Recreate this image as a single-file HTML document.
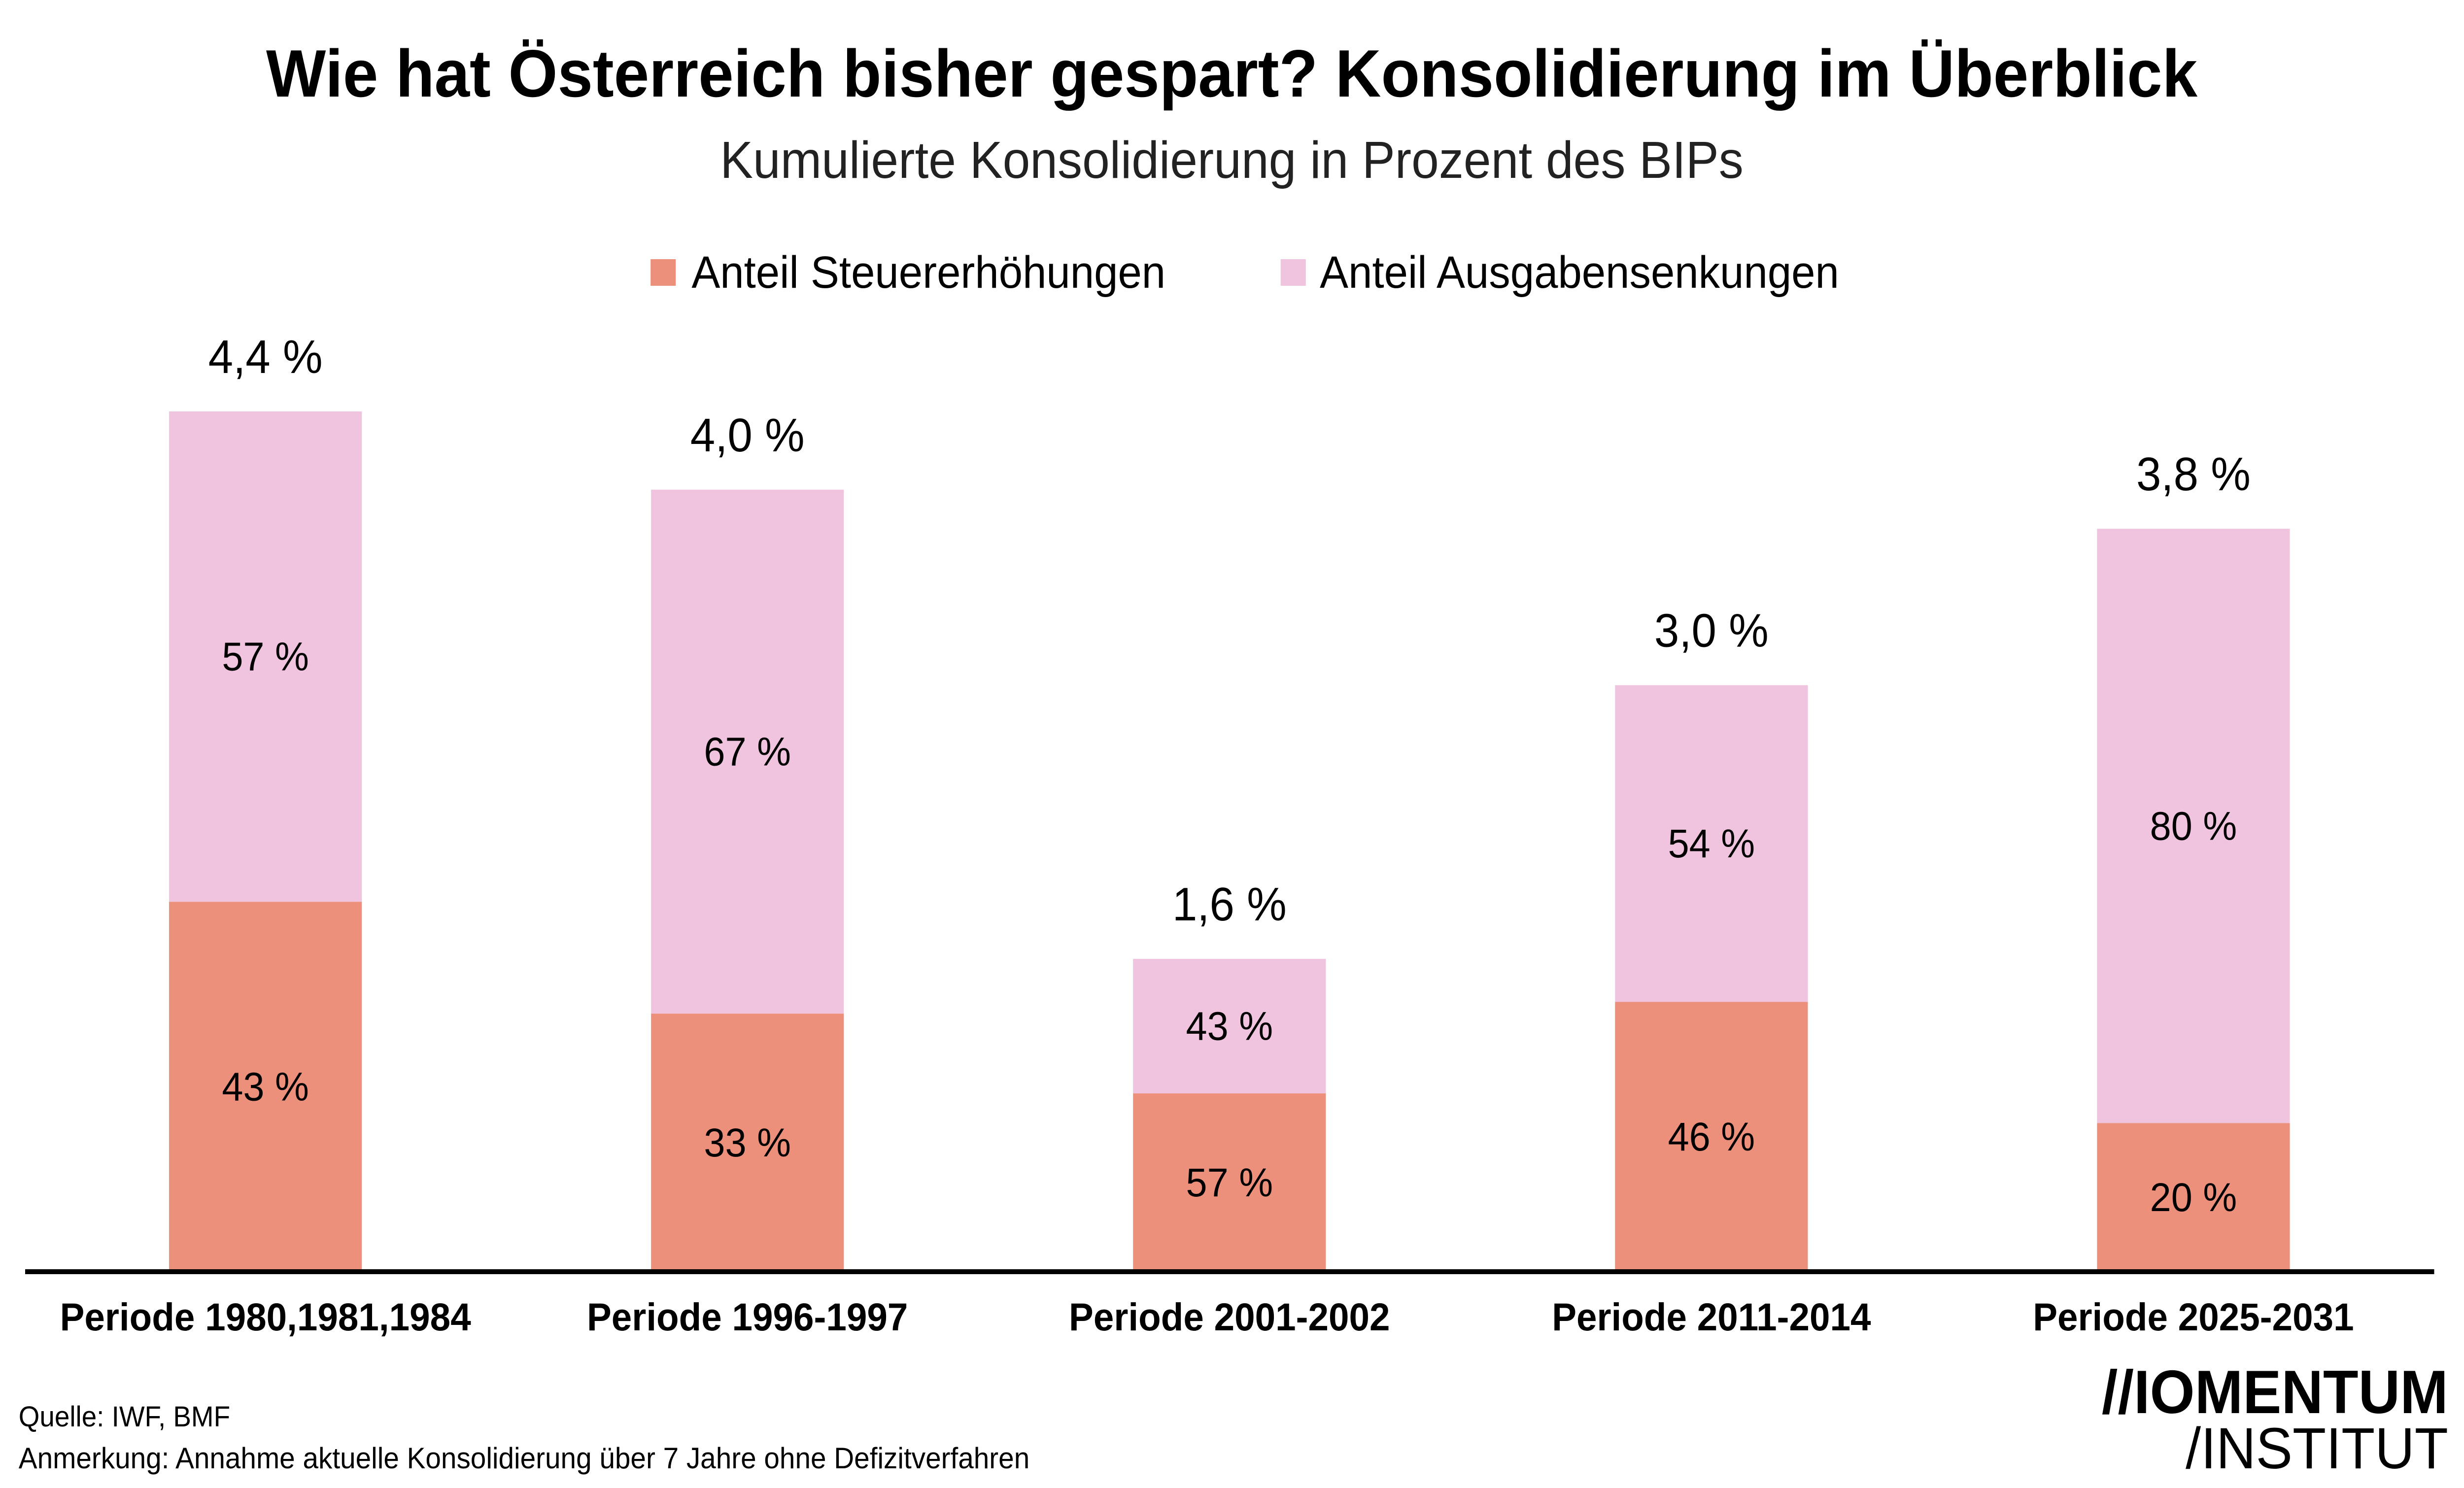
<!DOCTYPE html>
<html><head><meta charset="utf-8"><style>
html,body{margin:0;padding:0;background:#fff;width:100vw;height:100vh;overflow:hidden;}
svg{display:block;width:100vw;height:100vh;font-family:"Liberation Sans","DejaVu Sans",sans-serif;}
</style></head><body>
<svg id="chart" viewBox="0 0 5291 3020" preserveAspectRatio="none" xmlns="http://www.w3.org/2000/svg">
<text x="2645" y="196" text-anchor="middle" font-size="136" font-weight="bold" fill="#000">Wie hat Österreich bisher gespart? Konsolidierung im Überblick</text>
<text x="2645" y="361" text-anchor="middle" font-size="106" fill="#222">Kumulierte Konsolidierung in Prozent des BIPs</text>
<g>
<rect x="1397" y="526" width="54" height="54" fill="#ec907b"/>
<text x="1485" y="584" font-size="92" fill="#000">Anteil Steuererhöhungen</text>
<rect x="2750" y="526" width="54" height="54" fill="#f0c4df"/>
<text x="2834" y="584" font-size="92" fill="#000">Anteil Ausgabensenkungen</text>
</g>
<g id="bars"></g>
<line x1="54" y1="2581" x2="5227" y2="2581" stroke="#000" stroke-width="10"/>
<text x="40" y="2895" font-size="58" fill="#000">Quelle: IWF, BMF</text>
<text x="40" y="2980" font-size="60" fill="#000">Anmerkung: Annahme aktuelle  Konsolidierung über 7 Jahre ohne Defizitverfahren</text>
<text x="5257" y="2868" text-anchor="end" font-size="124" font-weight="bold" fill="#000">//IOMENTUM</text>
<text x="5257" y="2980" text-anchor="end" font-size="118" fill="#000">/INSTITUT</text>
</svg>
<script>
const categories = ["Periode 1980,1981,1984","Periode 1996-1997","Periode 2001-2002","Periode 2011-2014","Periode 2025-2031"];
const totals = [4.4, 4.0, 1.6, 3.0, 3.8];
const totalLabels = ["4,4 %","4,0 %","1,6 %","3,0 %","3,8 %"];
const taxShare = [43, 33, 57, 46, 20];
const spendShare = [57, 67, 43, 54, 80];

const NS = "http://www.w3.org/2000/svg";
const baseY = 2581, pxPerUnit = 396.8;
const firstCenter = 570, step = 1035, barW = 414;
function xCenter(i){ return firstCenter + i*step; }
function yScale(v){ return baseY - v*pxPerUnit; }
const g = document.getElementById('bars');
function mk(tag, attrs){ const e=document.createElementNS(NS,tag); for(const k in attrs) e.setAttribute(k,attrs[k]); g.appendChild(e); return e; }

categories.forEach((c,i)=>{
  const cx = xCenter(i);
  const top = yScale(totals[i]);
  const taxV = totals[i]*taxShare[i]/(taxShare[i]+spendShare[i]);
  const mid = yScale(taxV);
  const sp = mk('rect',{x:cx-barW/2,y:top,width:barW,height:mid-top,fill:'#f0c4df'});
  
  
  const tx = mk('rect',{x:cx-barW/2,y:mid,width:barW,height:baseY-mid,fill:'#ec907b'});
  
  
  const t1 = mk('text',{x:cx,y:(top+mid)/2+28,'text-anchor':'middle','font-size':82,fill:'#000'});
  t1.textContent = spendShare[i]+' %';
  
  
  const t2 = mk('text',{x:cx,y:(mid+baseY)/2+28,'text-anchor':'middle','font-size':82,fill:'#000'});
  t2.textContent = taxShare[i]+' %';
  
  
  const t3 = mk('text',{x:cx,y:top-78,'text-anchor':'middle','font-size':96,fill:'#000'});
  t3.textContent = totalLabels[i];
  
  
  const t4 = mk('text',{x:cx,y:2700,'text-anchor':'middle','font-size':79,'font-weight':'bold',fill:'#000'});
  t4.textContent = c;
  
  
});
</script>
</body></html>
